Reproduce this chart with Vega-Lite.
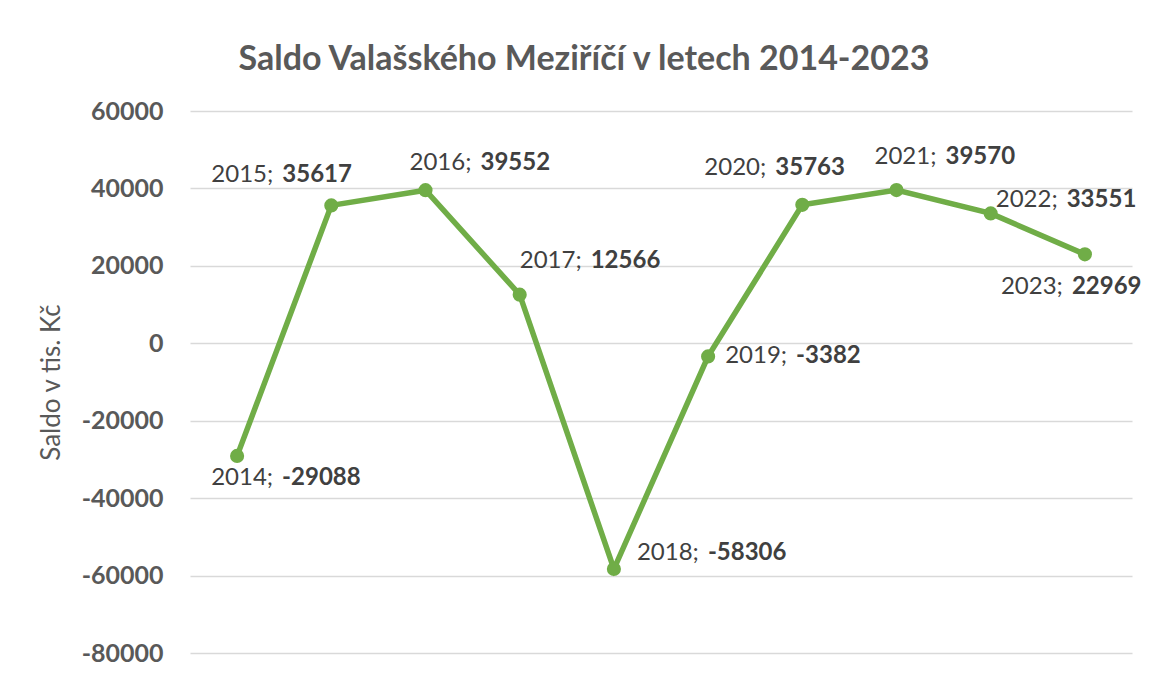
{
  "$schema": "https://vega.github.io/schema/vega-lite/v6.json",
  "width": 942,
  "height": 542,
  "autosize": {"type": "none"},
  "padding": {"left": 190, "top": 111, "right": 17, "bottom": 24},
  "background": "white",
  "config": {"view": {"stroke": null}},
  "title": {
    "text": "Saldo Valašského Meziříčí v letech 2014-2023",
    "font": "Lato",
    "fontSize": 34,
    "fontWeight": "bold",
    "color": "#595959",
    "anchor": "middle",
    "frame": "group",
    "dx": -77,
    "offset": 22
  },
  "data": {
    "values": [
      {"year": "2014", "label": "2014;", "value": -29088},
      {"year": "2015", "label": "2015;", "value": 35617},
      {"year": "2016", "label": "2016;", "value": 39552},
      {"year": "2017", "label": "2017;", "value": 12566},
      {"year": "2018", "label": "2018;", "value": -58306},
      {"year": "2019", "label": "2019;", "value": -3382},
      {"year": "2020", "label": "2020;", "value": 35763},
      {"year": "2021", "label": "2021;", "value": 39570},
      {"year": "2022", "label": "2022;", "value": 33551},
      {"year": "2023", "label": "2023;", "value": 22969}
    ]
  },
  "encoding": {
    "x": {"field": "year", "type": "nominal", "sort": null, "scale": {"type": "point", "padding": 0.5}, "axis": null},
    "y": {
      "field": "value",
      "type": "quantitative",
      "scale": {"domain": [-80000, 60000], "nice": false, "zero": false},
      "axis": {
        "values": [-80000, -60000, -40000, -20000, 0, 20000, 40000, 60000],
        "format": "d",
        "labelExpr": "replace(datum.label, '\u2212', '-')",
        "title": "Saldo v tis. Kč",
        "titleFont": "Lato",
        "titleFontSize": 26,
        "titleFontWeight": "normal",
        "titleColor": "#595959",
        "titlePadding": 17,
        "labelFont": "Lato",
        "labelFontSize": 25,
        "labelFontWeight": "bold",
        "labelColor": "#595959",
        "labelPadding": 27,
        "domain": false,
        "ticks": false,
        "grid": true,
        "gridColor": "#D9D9D9",
        "gridWidth": 1.5
      }
    }
  },
  "layer": [
    {"mark": {"type": "line", "color": "#70AD47", "strokeWidth": 5.5}},
    {"mark": {"type": "point", "filled": true, "color": "#70AD47", "opacity": 1, "size": 200}},
    {"transform": [{"filter": "datum.year == '2014'"}], "layer": [
      {"mark": {"type": "text", "font": "Lato", "fontSize": 24, "color": "#404040", "align": "right", "baseline": "middle", "dx": 36, "dy": 22}, "encoding": {"text": {"field": "label"}}},
      {"mark": {"type": "text", "font": "Lato", "fontSize": 24, "fontWeight": "bold", "color": "#404040", "align": "left", "baseline": "middle", "dx": 45, "dy": 22}, "encoding": {"text": {"field": "value", "type": "nominal"}}}
    ]},
    {"transform": [{"filter": "datum.year == '2015'"}], "layer": [
      {"mark": {"type": "text", "font": "Lato", "fontSize": 24, "color": "#404040", "align": "right", "baseline": "middle", "dx": -58, "dy": -30}, "encoding": {"text": {"field": "label"}}},
      {"mark": {"type": "text", "font": "Lato", "fontSize": 24, "fontWeight": "bold", "color": "#404040", "align": "left", "baseline": "middle", "dx": -49, "dy": -30}, "encoding": {"text": {"field": "value", "type": "nominal"}}}
    ]},
    {"transform": [{"filter": "datum.year == '2016'"}], "layer": [
      {"mark": {"type": "text", "font": "Lato", "fontSize": 24, "color": "#404040", "align": "right", "baseline": "middle", "dx": 46, "dy": -27}, "encoding": {"text": {"field": "label"}}},
      {"mark": {"type": "text", "font": "Lato", "fontSize": 24, "fontWeight": "bold", "color": "#404040", "align": "left", "baseline": "middle", "dx": 55, "dy": -27}, "encoding": {"text": {"field": "value", "type": "nominal"}}}
    ]},
    {"transform": [{"filter": "datum.year == '2017'"}], "layer": [
      {"mark": {"type": "text", "font": "Lato", "fontSize": 24, "color": "#404040", "align": "right", "baseline": "middle", "dx": 62, "dy": -34}, "encoding": {"text": {"field": "label"}}},
      {"mark": {"type": "text", "font": "Lato", "fontSize": 24, "fontWeight": "bold", "color": "#404040", "align": "left", "baseline": "middle", "dx": 71, "dy": -34}, "encoding": {"text": {"field": "value", "type": "nominal"}}}
    ]},
    {"transform": [{"filter": "datum.year == '2018'"}], "layer": [
      {"mark": {"type": "text", "font": "Lato", "fontSize": 24, "color": "#404040", "align": "right", "baseline": "middle", "dx": 85, "dy": -16}, "encoding": {"text": {"field": "label"}}},
      {"mark": {"type": "text", "font": "Lato", "fontSize": 24, "fontWeight": "bold", "color": "#404040", "align": "left", "baseline": "middle", "dx": 94, "dy": -16}, "encoding": {"text": {"field": "value", "type": "nominal"}}}
    ]},
    {"transform": [{"filter": "datum.year == '2019'"}], "layer": [
      {"mark": {"type": "text", "font": "Lato", "fontSize": 24, "color": "#404040", "align": "right", "baseline": "middle", "dx": 79, "dy": 0}, "encoding": {"text": {"field": "label"}}},
      {"mark": {"type": "text", "font": "Lato", "fontSize": 24, "fontWeight": "bold", "color": "#404040", "align": "left", "baseline": "middle", "dx": 88, "dy": 0}, "encoding": {"text": {"field": "value", "type": "nominal"}}}
    ]},
    {"transform": [{"filter": "datum.year == '2020'"}], "layer": [
      {"mark": {"type": "text", "font": "Lato", "fontSize": 24, "color": "#404040", "align": "right", "baseline": "middle", "dx": -36, "dy": -37}, "encoding": {"text": {"field": "label"}}},
      {"mark": {"type": "text", "font": "Lato", "fontSize": 24, "fontWeight": "bold", "color": "#404040", "align": "left", "baseline": "middle", "dx": -27, "dy": -37}, "encoding": {"text": {"field": "value", "type": "nominal"}}}
    ]},
    {"transform": [{"filter": "datum.year == '2021'"}], "layer": [
      {"mark": {"type": "text", "font": "Lato", "fontSize": 24, "color": "#404040", "align": "right", "baseline": "middle", "dx": 40, "dy": -33}, "encoding": {"text": {"field": "label"}}},
      {"mark": {"type": "text", "font": "Lato", "fontSize": 24, "fontWeight": "bold", "color": "#404040", "align": "left", "baseline": "middle", "dx": 49, "dy": -33}, "encoding": {"text": {"field": "value", "type": "nominal"}}}
    ]},
    {"transform": [{"filter": "datum.year == '2022'"}], "layer": [
      {"mark": {"type": "text", "font": "Lato", "fontSize": 24, "color": "#404040", "align": "right", "baseline": "middle", "dx": 67, "dy": -13}, "encoding": {"text": {"field": "label"}}},
      {"mark": {"type": "text", "font": "Lato", "fontSize": 24, "fontWeight": "bold", "color": "#404040", "align": "left", "baseline": "middle", "dx": 76, "dy": -13}, "encoding": {"text": {"field": "value", "type": "nominal"}}}
    ]},
    {"transform": [{"filter": "datum.year == '2023'"}], "layer": [
      {"mark": {"type": "text", "font": "Lato", "fontSize": 24, "color": "#404040", "align": "right", "baseline": "middle", "dx": -22, "dy": 33}, "encoding": {"text": {"field": "label"}}},
      {"mark": {"type": "text", "font": "Lato", "fontSize": 24, "fontWeight": "bold", "color": "#404040", "align": "left", "baseline": "middle", "dx": -13, "dy": 33}, "encoding": {"text": {"field": "value", "type": "nominal"}}}
    ]}
  ]
}
